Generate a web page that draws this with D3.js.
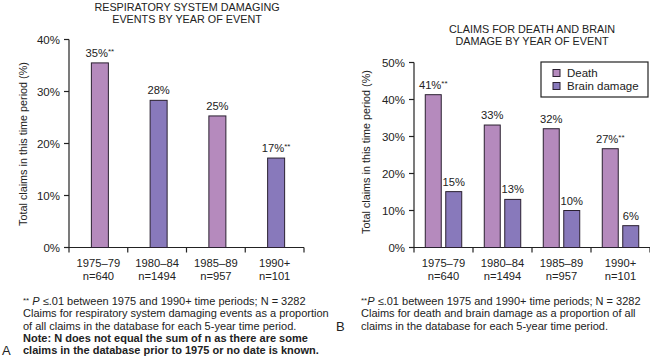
<!DOCTYPE html>
<html><head><meta charset="utf-8">
<script src="https://cdn.jsdelivr.net/npm/d3@7"></script>
<style>
body{margin:0;background:#fff;}
svg{display:block;font-family:"Liberation Sans",Arial,sans-serif;}
</style></head>
<body><svg id="c" width="650" height="360"></svg>
<script>
const periods = ["1975–79","1980–84","1985–89","1990+"];
const nLabels = ["n=640","n=1494","n=957","n=101"];
const respValues = [35.5, 28.3, 25.3, 17.2];
const respLabels = ["35%","28%","25%","17%"];
const respStars = [true,false,false,true];
const deathValues = [41.3, 33.1, 32.1, 26.7];
const deathLabels = ["41%","33%","32%","27%"];
const deathStars = [true,false,false,true];
const brainValues = [15.1, 13.0, 10.0, 5.9];
const brainLabels = ["15%","13%","10%","6%"];
const leftTicks = [0,10,20,30,40];
const rightTicks = [0,10,20,30,40,50];
const seriesNames = ["Death","Brain damage"];

const PINK = "#b58abd", BLUE = "#8879bb", STROKE = "#2a2030";
const svg = d3.select("#c");

function axes(g, x, y, ticks, x0, x1){
  g.append("line").attr("x1",x0).attr("x2",x0).attr("y1",y(0)).attr("y2",y(ticks[ticks.length-1]))
    .attr("stroke","#222").attr("stroke-width",1.2);
  ticks.forEach(t=>{
    g.append("line").attr("x1",x0-5).attr("x2",x0).attr("y1",y(t)).attr("y2",y(t)).attr("stroke","#222").attr("stroke-width",1.2);
    g.append("text").attr("x",x0-9).attr("y",y(t)+4).attr("text-anchor","end").attr("font-size",11.5).attr("fill","#222").text(t+"%");
  });
  g.append("line").attr("x1",x0).attr("x2",x1).attr("y1",y(0)).attr("y2",y(0)).attr("stroke","#222").attr("stroke-width",1.2);
  const bounds = periods.map(p=>x(p)).concat([x1]);
  bounds.forEach(b=>{
    g.append("line").attr("x1",b).attr("x2",b).attr("y1",y(0)).attr("y2",y(0)+5).attr("stroke","#222").attr("stroke-width",1.2);
  });
  periods.forEach((p,i)=>{
    const cx = x(p)+x.bandwidth()/2;
    g.append("text").attr("x",cx).attr("y",y(0)+19).attr("text-anchor","middle").attr("font-size",11.2).attr("fill","#222").text(p);
    g.append("text").attr("x",cx).attr("y",y(0)+32).attr("text-anchor","middle").attr("font-size",11.2).attr("fill","#222").text(nLabels[i]);
  });
}

function valueLabel(g, cx, yTop, label, star){
  const t = g.append("text").attr("x",cx).attr("y",yTop-6).attr("text-anchor","middle").attr("font-size",11.2).attr("fill","#222");
  t.append("tspan").text(label);
  if(star) t.append("tspan").attr("font-size",8).attr("dy",-3).text("**");
}

const FS = 11;
function foot(g, x, y, txt, bold){
  return g.append("text").attr("x",x).attr("y",y).attr("font-size",FS).attr("fill","#222")
    .attr("font-weight", bold?"bold":null).text(txt);
}

// ---------- Panel A ----------
{
  const g = svg.append("g");
  const x0 = 69, x1 = 304;
  const x = d3.scaleBand().domain(periods).range([x0,x1]).padding(0);
  const y = d3.scaleLinear().domain([0,40]).range([247.5,39.5]);
  const bw = 17;
  axes(g, x, y, leftTicks, x0, x1);
  periods.forEach((p,i)=>{
    const cx = x(p)+x.bandwidth()/2 + 1.5;
    g.append("rect").attr("x",cx-bw/2).attr("y",y(respValues[i])).attr("width",bw).attr("height",y(0)-y(respValues[i]))
      .attr("fill", i%2===0?PINK:BLUE).attr("stroke",STROKE).attr("stroke-width",1);
    valueLabel(g, cx, y(respValues[i]), respLabels[i], respStars[i]);
  });
  g.append("text").attr("x",187).attr("y",11).attr("text-anchor","middle").attr("font-size",10.8).attr("fill","#222").text("RESPIRATORY SYSTEM DAMAGING");
  g.append("text").attr("x",187).attr("y",23).attr("text-anchor","middle").attr("font-size",10.8).attr("fill","#222").text("EVENTS BY YEAR OF EVENT");
  g.append("text").attr("transform","translate(27,144) rotate(-90)").attr("text-anchor","middle").attr("font-size",10.8).attr("fill","#222")
    .text("Total claims in this time period (%)");
  const fx = 23;
  const l1 = g.append("text").attr("x",fx).attr("y",305).attr("font-size",FS).attr("fill","#222");
  l1.append("tspan").attr("font-size",8).attr("dy",-2).text("**");
  l1.append("tspan").attr("dy",2).text(" ");
  l1.append("tspan").attr("font-style","italic").text("P");
  l1.append("tspan").text(" ≤.01 between 1975 and 1990+ time periods; N = 3282");
  foot(g, fx, 317, "Claims for respiratory system damaging events as a proportion");
  foot(g, fx, 329.5, "of all claims in the database for each 5-year time period.");
  foot(g, fx, 342, "Note: N does not equal the sum of n as there are some", true);
  foot(g, fx, 354, "claims in the database prior to 1975 or no date is known.", true);
  g.append("text").attr("x",2).attr("y",355).attr("font-size",13).attr("fill","#222").text("A");
}

// ---------- Panel B ----------
{
  const g = svg.append("g");
  const x0 = 414, x1 = 650;
  const x = d3.scaleBand().domain(periods).range([x0,x1]).padding(0);
  const y = d3.scaleLinear().domain([0,50]).range([247.5,62.5]);
  const sub = d3.scaleBand().domain(seriesNames).range([0,x.bandwidth()]).paddingInner(0.22).paddingOuter(0.55);
  axes(g, x, y, rightTicks, x0, x1);
  periods.forEach((p,i)=>{
    const vals = [deathValues[i], brainValues[i]];
    const labs = [deathLabels[i], brainLabels[i]];
    const stars = [deathStars[i], false];
    seriesNames.forEach((s,j)=>{
      const bx = x(p)+sub(s);
      g.append("rect").attr("x",bx).attr("y",y(vals[j])).attr("width",sub.bandwidth()).attr("height",y(0)-y(vals[j]))
        .attr("fill", j===0?PINK:BLUE).attr("stroke",STROKE).attr("stroke-width",1);
      valueLabel(g, bx+sub.bandwidth()/2, y(vals[j]), labs[j], stars[j]);
    });
  });
  g.append("text").attr("x",532).attr("y",33).attr("text-anchor","middle").attr("font-size",10.8).attr("fill","#222").text("CLAIMS FOR DEATH AND BRAIN");
  g.append("text").attr("x",532).attr("y",45).attr("text-anchor","middle").attr("font-size",10.8).attr("fill","#222").text("DAMAGE BY YEAR OF EVENT");
  g.append("text").attr("transform","translate(370,152) rotate(-90)").attr("text-anchor","middle").attr("font-size",10.8).attr("fill","#222")
    .text("Total claims in this time period (%)");
  g.append("rect").attr("x",541).attr("y",62).attr("width",107).attr("height",35).attr("fill","#fff").attr("stroke","#222").attr("stroke-width",1.2);
  seriesNames.forEach((s,j)=>{
    const ly = 73 + j*13;
    g.append("rect").attr("x",553).attr("y",ly-3.5).attr("width",7).attr("height",7)
      .attr("fill", j===0?PINK:BLUE).attr("stroke",STROKE).attr("stroke-width",1);
    g.append("text").attr("x",567).attr("y",ly+4).attr("font-size",11.5).attr("fill","#222").text(s);
  });
  const fx = 361;
  const l1 = g.append("text").attr("x",fx).attr("y",305).attr("font-size",FS).attr("fill","#222");
  l1.append("tspan").attr("font-size",8).attr("dy",-2).text("**");
  l1.append("tspan").attr("dy",2).attr("font-style","italic").text("P");
  l1.append("tspan").text(" ≤.01 between 1975 and 1990+ time periods; N = 3282");
  foot(g, fx, 317, "Claims for death and brain damage as a proportion of all");
  foot(g, fx, 329.5, "claims in the database for each 5-year time period.");
  g.append("text").attr("x",336).attr("y",331).attr("font-size",13).attr("fill","#222").text("B");
}
</script></body></html>
